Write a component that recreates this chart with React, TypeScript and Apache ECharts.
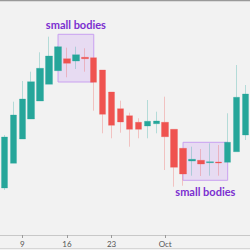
import React, { useEffect, useRef } from "react";
import * as echarts from "echarts";

const dates = [
  "2019-09-05", "2019-09-06", "2019-09-09", "2019-09-10", "2019-09-11", "2019-09-12", "2019-09-13",
  "2019-09-16", "2019-09-17", "2019-09-18", "2019-09-19", "2019-09-20",
  "2019-09-23", "2019-09-24", "2019-09-25", "2019-09-26", "2019-09-27",
  "2019-09-30", "2019-10-01", "2019-10-02", "2019-10-03", "2019-10-04",
  "2019-10-07", "2019-10-08", "2019-10-09", "2019-10-10", "2019-10-11",
  "2019-10-14",
];

// [open, close, low, high]
const ohlc: number[][] = [
  [47, 98, 45, 100],
  [71.7, 120, 71.7, 133.3],
  [96, 136, 96, 154],
  [116, 153.3, 116, 163.3],
  [134, 166.7, 134, 182.7],
  [150.7, 179, 150.7, 198.3],
  [164.3, 188.3, 164.3, 189],
  [176.3, 171.7, 157.7, 187.3],
  [174, 180.3, 166, 188.3],
  [177.7, 176.3, 163.3, 186.7],
  [177.3, 152.7, 124.3, 177.3],
  [165, 120.7, 101.7, 165],
  [143, 109.7, 96.7, 143],
  [126.3, 113, 102.3, 134.3],
  [119.3, 105.7, 88.3, 122.3],
  [112.7, 105.7, 96.7, 116.7],
  [109, 113.7, 96.7, 135],
  [111.3, 114, 101.7, 123.3],
  [112.7, 98.3, 65, 138.3],
  [105.7, 67.7, 48.3, 105.7],
  [86.7, 61, 49.3, 86.7],
  [74, 75.7, 59.3, 88.3],
  [74.7, 71, 59, 86],
  [72.3, 73.3, 59.3, 91.7],
  [73, 72, 59.3, 90],
  [72.7, 92.7, 72.7, 121.7],
  [83.3, 137.7, 83.3, 170],
  [100, 141, 95, 150],
];

const tickLabels: Record<string, string> = {
  "2019-09-09": "9",
  "2019-09-16": "16",
  "2019-09-23": "23",
  "2019-10-01": "Oct",
};

const annotationText = "small bodies";
// [startDate, endDate, low, high]
const zone1 = ["2019-09-13", "2019-09-19", 153, 200.7];
const zone2 = ["2019-10-03", "2019-10-10", 54.7, 92.7];

export default function App() {
  const ref = useRef<HTMLDivElement>(null);
  useEffect(() => {
    document.body.style.margin = "0";
    const chart = echarts.init(ref.current!, null, { renderer: "svg" });
    const purple = "#7b2fd0";
    const isLabeled = (i: number) => tickLabels[dates[i]] !== undefined;
    chart.setOption({
      animation: false,
      backgroundColor: "#f2f2f2",
      grid: { left: -8.3, right: -6.3, top: 0, bottom: 15 },
      xAxis: {
        type: "category",
        data: dates,
        boundaryGap: true,
        axisLine: { lineStyle: { color: "#c8c8c8", width: 1 } },
        axisTick: {
          show: true,
          alignWithLabel: true,
          interval: (i: number) => isLabeled(i),
          length: 3,
          lineStyle: { color: "#999" },
        },
        axisLabel: {
          interval: (i: number) => isLabeled(i),
          formatter: (v: string) => tickLabels[v] || "",
          color: "#555",
          fontSize: 8,
          margin: 5,
          fontFamily: "Lato",
        },
        splitLine: { show: false },
      },
      yAxis: {
        type: "value",
        min: 0,
        max: 235,
        show: false,
        splitLine: { show: false },
      },
      graphic: [
        { type: "line", shape: { x1: 0, y1: 0.5, x2: 250, y2: 0.5 }, style: { stroke: "#999", lineWidth: 1.5 } },
        { type: "line", shape: { x1: 0, y1: 248.5, x2: 250, y2: 248.5 }, style: { stroke: "#d6d6d6", lineWidth: 1 } },
      ],
      series: [
        {
          type: "candlestick",
          data: ohlc,
          barWidth: 7,
          itemStyle: {
            color: "#26a69a",
            color0: "#ef5350",
            borderColor: "rgba(38,166,154,0.3)",
            borderColor0: "rgba(239,83,80,0.3)",
            borderWidth: 1,
          },
          markArea: {
            silent: true,
            itemStyle: {
              color: "rgba(206,160,245,0.28)",
              borderColor: "#c9a0f0",
              borderWidth: 1,
            },
            label: {
              show: true,
              color: purple,
              fontSize: 11,
              fontWeight: "bold",
              fontFamily: "Lato",
            },
            data: [
              [
                { xAxis: zone1[0], yAxis: zone1[3], label: { position: "top", distance: 4, formatter: annotationText } },
                { xAxis: zone1[1], yAxis: zone1[2] },
              ],
              [
                { xAxis: zone2[0], yAxis: zone2[3], label: { position: "bottom", distance: 5, formatter: annotationText } },
                { xAxis: zone2[1], yAxis: zone2[2] },
              ],
            ],
          },
        },
      ],
    });
    return () => chart.dispose();
  }, []);
  return <div ref={ref} style={{ width: 250, height: 250 }} />;
}
